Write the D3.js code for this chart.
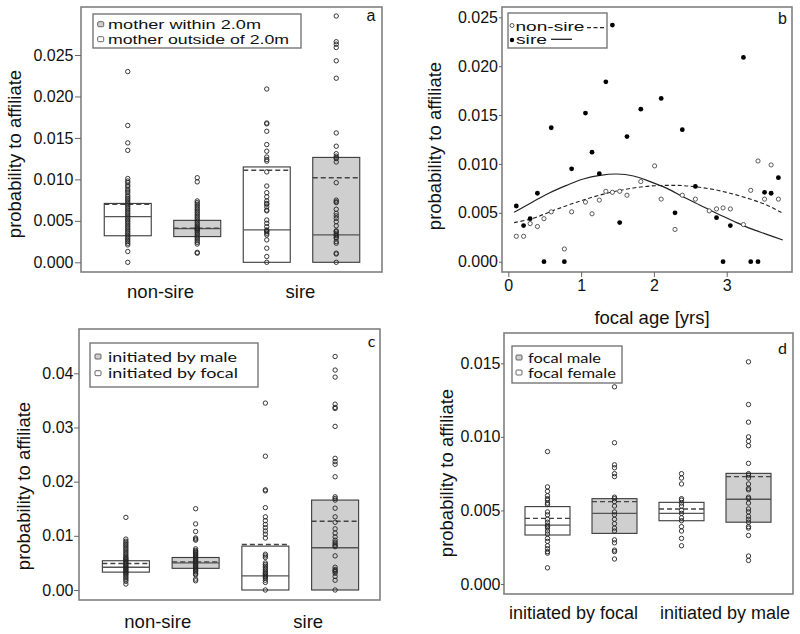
<!DOCTYPE html>
<html><head><meta charset="utf-8">
<script src="https://cdn.jsdelivr.net/npm/d3@7"></script>
<style>body{margin:0;background:#fff} text{font-family:"Liberation Sans",Arial,sans-serif;fill:#111}</style>
</head><body>
<svg id="chart" width="800" height="634"></svg>
<script>
// ================= DATA =================
// ---- panel a ----
const aLegend = ["mother within 2.0m", "mother outside of 2.0m"];
const aGroupNames = ["non-sire", "sire"];
const aBoxKeys = ["non-sire|outside", "non-sire|within", "sire|outside", "sire|within"];
const aBoxGroup = ["non-sire", "non-sire", "sire", "sire"];
const aBoxSeries = ["mother outside of 2.0m", "mother within 2.0m", "mother outside of 2.0m", "mother within 2.0m"];
const aQ1 = [0.0032, 0.0031, 0.0000, 0.0000];
const aMedian = [0.0055, 0.00405, 0.0039, 0.0033];
const aQ3 = [0.0071, 0.00506, 0.0115, 0.01265];
const aMean = [0.0070, 0.0041, 0.0111, 0.0102];
const aPts1 = [0.0230,0.0165,0.0144,0.0135,0.0101,0.0098,0.0096,0.0093,0.0091,0.0088,0.0086,0.0084,0.0081,0.0079,0.0077,0.0075,0.0073,0.0071,0.0069,0.0067,0.0065,0.0063,0.0061,0.0059,0.0057,0.0055,0.0053,0.0051,0.0049,0.0047,0.0045,0.0043,0.0041,0.0039,0.0037,0.0035,0.0033,0.0031,0.0029,0.0027,0.0025,0.0023,0.0021,0.0013,0.0000];
const aPts2 = [0.0102,0.0097,0.0074,0.0072,0.0070,0.0068,0.0066,0.0064,0.0062,0.0060,0.0058,0.0056,0.0054,0.0052,0.0050,0.0048,0.0046,0.0044,0.0042,0.0041,0.0040,0.0039,0.0038,0.0036,0.0034,0.0032,0.0030,0.0028,0.0026,0.0024,0.0022,0.0012,0.0011];
const aPts3 = [0.0209,0.0168,0.0167,0.0158,0.0142,0.0134,0.0127,0.0124,0.0122,0.0109,0.0092,0.0084,0.0079,0.0074,0.0071,0.0070,0.0067,0.0063,0.0062,0.0051,0.0047,0.0043,0.0039,0.0038,0.0037,0.0035,0.0033,0.0027,0.0017,0.0007,0.0000];
const aPts4 = [0.0297,0.0266,0.0263,0.0259,0.0243,0.0222,0.0156,0.0140,0.0131,0.0128,0.0126,0.0125,0.0121,0.0096,0.0075,0.0073,0.0072,0.0064,0.0059,0.0056,0.0053,0.0049,0.0044,0.0038,0.0037,0.0035,0.0033,0.0032,0.0030,0.0029,0.0025,0.0023,0.0011,0.0010,0.0000];
const aTicks = [0, 0.005, 0.010, 0.015, 0.020, 0.025];
const aTickLabels = ["0.000", "0.005", "0.010", "0.015", "0.020", "0.025"];

// ---- panel b ----
const bLegend = ["non-sire", "sire"];
const bNonSireAge = [0.11,0.21,0.30,0.40,0.49,0.59,0.77,0.87,1.06,1.15,1.25,1.34,1.43,1.53,1.63,1.82,2.01,2.10,2.29,2.39,2.57,2.76,2.86,2.95,3.05,3.23,3.33,3.43,3.52,3.61,3.71];
const bNonSireVal = [0.0026,0.0026,0.0039,0.0036,0.0044,0.0051,0.0013,0.0051,0.0061,0.0049,0.0063,0.0072,0.0071,0.0072,0.0068,0.0082,0.0098,0.0064,0.0033,0.0068,0.0064,0.0052,0.0054,0.0055,0.0054,0.0038,0.0073,0.0103,0.0064,0.0099,0.0064];
const bSireAge = [0.11,0.21,0.30,0.40,0.49,0.59,0.77,0.87,1.06,1.15,1.25,1.34,1.43,1.53,1.63,1.82,2.10,2.29,2.39,2.57,2.86,2.95,3.05,3.23,3.33,3.43,3.52,3.61,3.71];
const bSireVal = [0.0057,0.0037,0.0044,0.0070,0.0000,0.0137,0.0000,0.0095,0.0152,0.0112,0.0090,0.0184,0.0242,0.0040,0.0128,0.0156,0.0167,0.0050,0.0135,0.0077,0.0045,0.0000,0.0037,0.0209,0.0000,0.0000,0.0071,0.0070,0.0086];
const bFitAge = [0.08,0.34,0.57,0.80,1.03,1.26,1.49,1.72,1.95,2.18,2.40,2.63,2.86,3.09,3.32,3.55,3.77];
const bFitSire = [0.00505,0.00614,0.00706,0.00781,0.00846,0.00883,0.00897,0.00877,0.00819,0.00750,0.00665,0.00580,0.00495,0.00416,0.00341,0.00280,0.00222];
const bFitNonSire = [0.00400,0.00443,0.00510,0.00573,0.00631,0.00682,0.00723,0.00754,0.00774,0.00781,0.00778,0.00761,0.00733,0.00692,0.00641,0.00580,0.00495];
const bXTicks = [0, 1, 2, 3];
const bXTickLabels = ["0", "1", "2", "3"];
const bYTicks = [0, 0.005, 0.010, 0.015, 0.020, 0.025];
const bYTickLabels = ["0.000", "0.005", "0.010", "0.015", "0.020", "0.025"];

// ---- panel c ----
const cLegend = ["initiated by male", "initiated by focal"];
const cGroupNames = ["non-sire", "sire"];
const cBoxKeys = ["non-sire|focal", "non-sire|male", "sire|focal", "sire|male"];
const cBoxGroup = ["non-sire", "non-sire", "sire", "sire"];
const cBoxSeries = ["initiated by focal", "initiated by male", "initiated by focal", "initiated by male"];
const cQ1 = [0.0033, 0.0040, 0.0000, 0.0000];
const cMedian = [0.0042, 0.0050, 0.0026, 0.0078];
const cQ3 = [0.0054, 0.0060, 0.0081, 0.0166];
const cMean = [0.0049, 0.0052, 0.0084, 0.0127];
const cPts1 = [0.0134,0.0094,0.0090,0.0087,0.0084,0.0081,0.0078,0.0075,0.0072,0.0069,0.0066,0.0063,0.0060,0.0058,0.0056,0.0054,0.0052,0.0050,0.0048,0.0046,0.0044,0.0042,0.0040,0.0038,0.0036,0.0034,0.0032,0.0030,0.0028,0.0025,0.0022,0.0019,0.0016,0.0011];
const cPts2 = [0.0150,0.0122,0.0108,0.0096,0.0094,0.0092,0.0076,0.0073,0.0071,0.0069,0.0067,0.0065,0.0063,0.0061,0.0059,0.0057,0.0055,0.0053,0.0051,0.0049,0.0047,0.0045,0.0043,0.0041,0.0039,0.0037,0.0035,0.0033,0.0030,0.0028,0.0020,0.0017];
const cPts3 = [0.0345,0.0247,0.0185,0.0183,0.0152,0.0135,0.0128,0.0121,0.0115,0.0109,0.0103,0.0096,0.0066,0.0063,0.0060,0.0050,0.0047,0.0044,0.0041,0.0038,0.0035,0.0032,0.0030,0.0028,0.0026,0.0024,0.0022,0.0018,0.0014,0.0000];
const cPts4 = [0.0431,0.0406,0.0393,0.0343,0.0337,0.0335,0.0302,0.0243,0.0237,0.0232,0.0209,0.0172,0.0169,0.0166,0.0151,0.0135,0.0125,0.0113,0.0105,0.0098,0.0092,0.0088,0.0085,0.0082,0.0080,0.0063,0.0042,0.0038,0.0036,0.0034,0.0031,0.0025,0.0018,0.0000];
const cTicks = [0, 0.01, 0.02, 0.03, 0.04];
const cTickLabels = ["0.00", "0.01", "0.02", "0.03", "0.04"];

// ---- panel d ----
const dLegend = ["focal male", "focal female"];
const dGroupNames = ["initiated by focal", "initiated by male"];
const dBoxKeys = ["focal|female", "focal|male", "male|female", "male|male"];
const dBoxGroup = ["initiated by focal", "initiated by focal", "initiated by male", "initiated by male"];
const dBoxSeries = ["focal female", "focal male", "focal female", "focal male"];
const dQ1 = [0.00333, 0.00344, 0.0043, 0.0042];
const dMedian = [0.0040, 0.0048, 0.0048, 0.00576];
const dQ3 = [0.00526, 0.0058, 0.00555, 0.00752];
const dMean = [0.00446, 0.0056, 0.0051, 0.0073];
const dPts1 = [0.0090,0.0066,0.0063,0.0060,0.0058,0.0057,0.0055,0.0054,0.0049,0.0047,0.0044,0.0042,0.0040,0.0039,0.0038,0.0036,0.0034,0.0031,0.0029,0.0026,0.0024,0.0022,0.0021,0.0011];
const dPts2 = [0.0134,0.0096,0.0081,0.0079,0.0075,0.0073,0.0059,0.0058,0.0056,0.0053,0.0049,0.0047,0.0044,0.0041,0.0038,0.0036,0.0030,0.0028,0.0023,0.0022,0.0017];
const dPts3 = [0.0075,0.0072,0.0068,0.0058,0.0057,0.0055,0.0053,0.0050,0.0048,0.0045,0.0043,0.0039,0.0036,0.0031,0.0026];
const dPts4 = [0.0151,0.0122,0.0110,0.0100,0.0097,0.0094,0.0082,0.0075,0.0074,0.0072,0.0068,0.0065,0.0064,0.0059,0.0058,0.0055,0.0051,0.0049,0.0046,0.0044,0.0042,0.0039,0.0038,0.0033,0.0019,0.0016];
const dTicks = [0, 0.005, 0.010, 0.015];
const dTickLabels = ["0.000", "0.005", "0.010", "0.015"];

const yTitle = "probability to affiliate";

// ================= DRAWING =================
const svg = d3.select("#chart");
const SHADE = "#cfcfcf", FRAME = "#808080", BOXLINE = "#3a3a3a";

function frame(g, L) {
  g.append("rect").attr("x", L.fx0).attr("y", L.fy0)
    .attr("width", L.fx1 - L.fx0).attr("height", L.fy1 - L.fy0)
    .attr("fill", "none").attr("stroke", FRAME).attr("stroke-width", 1.6);
}

function yAxis(g, y, ticks, labels, L) {
  const ax = g.append("g").attr("transform", `translate(${L.fx0},0)`)
    .call(d3.axisLeft(y).tickValues(ticks).tickFormat((d, i) => labels[i])
      .tickSize(L.tick).tickPadding(L.pad));
  ax.attr("font-size", null).attr("font-family", null);
  ax.select(".domain").remove();
  ax.selectAll("line").attr("stroke", "#666");
  ax.selectAll("text").attr("font-size", 16).attr("fill", "#111");
}

function titleY(g, L) {
  g.append("text").attr("transform", `translate(${L.tx},${L.ty}) rotate(-90)`)
    .attr("text-anchor", "middle").attr("font-size", 18.5).text(yTitle);
}

function letter(g, L, s, font) {
  g.append("text").attr("x", L.lx).attr("y", L.ly).attr("text-anchor", "middle")
    .attr("font-size", 16).style("font-family", font || null).text(s);
}

function legendBox(g, LG, entries, fill, font) {
  g.append("rect").attr("x", LG.x).attr("y", LG.y).attr("width", LG.w).attr("height", LG.h)
    .attr("fill", "#fff").attr("stroke", "#777").attr("stroke-width", 1.4);
  entries.forEach((e, i) => {
    g.append("rect").attr("x", LG.sx).attr("y", LG.sy[i]).attr("width", 6).attr("height", 5)
      .attr("rx", 1).attr("fill", fill(e)).attr("stroke", "#555").attr("stroke-width", 0.9);
    g.append("text").attr("x", LG.tx).attr("y", LG.ty[i]).attr("font-size", LG.fs)
      .style("font-family", font).attr("textLength", LG.tl[i]).attr("lengthAdjust", "spacingAndGlyphs")
      .text(e);
  });
}

function boxPanel(L, D) {
  const g = svg.append("g");
  const y = d3.scaleLinear().domain([0, D.ticks[D.ticks.length - 1]]).range([L.y0, L.yTop]);
  const x = d3.scaleBand().domain(D.keys).range(L.band);
  const fill = d3.scaleOrdinal().domain(D.legend).range([SHADE, "#ffffff"]);
  frame(g, L);
  yAxis(g, y, D.ticks, D.tickLabels, L);
  titleY(g, L);
  const cx = k => x(k) + x.bandwidth() / 2;
  D.keys.forEach((k, i) => {
    const c = cx(k), hw = L.boxW / 2;
    g.append("rect").attr("x", c - hw).attr("y", y(D.q3[i]))
      .attr("width", L.boxW).attr("height", y(D.q1[i]) - y(D.q3[i]))
      .attr("fill", fill(D.series[i])).attr("stroke", BOXLINE).attr("stroke-width", 1.1);
    g.append("line").attr("x1", c - hw).attr("x2", c + hw)
      .attr("y1", y(D.med[i])).attr("y2", y(D.med[i]))
      .attr("stroke", "#555").attr("stroke-width", 1.3);
    g.append("line").attr("x1", c - hw).attr("x2", c + hw)
      .attr("y1", y(D.mean[i])).attr("y2", y(D.mean[i]))
      .attr("stroke", "#444").attr("stroke-width", 1.4).attr("stroke-dasharray", "5,3");
    g.selectAll(null).data(D.pts[i]).enter().append("circle")
      .attr("cx", c).attr("cy", v => y(v)).attr("r", 2.2)
      .attr("fill", "none").attr("stroke", "#222").attr("stroke-width", 0.9);
  });
  // group labels
  D.groupNames.forEach((gname, j) => {
    const ks = D.keys.filter((k, i) => D.groups[i] === gname);
    const mid = d3.mean(ks, cx);
    g.append("text").attr("x", mid + L.gdx[j]).attr("y", L.gy).attr("text-anchor", "middle")
      .attr("font-size", L.gfs).text(gname);
  });
  legendBox(g, L.legend, D.legend, fill, L.legendFont);
  letter(g, L, L.letter, L.letterFont);
}

// ---- panel a ----
boxPanel(
  { fx0: 81, fx1: 382, fy0: 7, fy1: 272, y0: 262.3, yTop: 55, band: [93, 371], boxW: 47,
    tick: 6, pad: 1.5, tx: 21, ty: 154, gy: 298, gdx: [-2, -1], gfs: 18.5,
    lx: 371, ly: 20.5, letter: "a",
    legendFont: '"Liberation Sans", Arial, sans-serif',
    legend: { x: 93, y: 14, w: 208, h: 34, sx: 97.7, sy: [21.7, 36.7], tx: 108, ty: [29.3, 44.3], fs: 13, tl: [153, 181] } },
  { keys: aBoxKeys, groups: aBoxGroup, series: aBoxSeries, legend: aLegend, groupNames: aGroupNames,
    q1: aQ1, med: aMedian, q3: aQ3, mean: aMean, pts: [aPts1, aPts2, aPts3, aPts4],
    ticks: aTicks, tickLabels: aTickLabels });

// ---- panel c ----
boxPanel(
  { fx0: 79, fx1: 380, fy0: 329, fy1: 600, y0: 590, yTop: 373.3, band: [91, 370], boxW: 47,
    tick: 5, pad: 0.5, tx: 29.5, ty: 486, gy: 628, gdx: [-3, 8], gfs: 18.5,
    lx: 371.5, ly: 347, letter: "c", letterFont: "Lato, sans-serif",
    legendFont: "Lato, sans-serif",
    legend: { x: 90, y: 343, w: 168, h: 44, sx: 95, sy: [354, 370.7], tx: 108, ty: [361.7, 378.3], fs: 14, tl: [129, 130] } },
  { keys: cBoxKeys, groups: cBoxGroup, series: cBoxSeries, legend: cLegend, groupNames: cGroupNames,
    q1: cQ1, med: cMedian, q3: cQ3, mean: cMean, pts: [cPts1, cPts2, cPts3, cPts4],
    ticks: cTicks, tickLabels: cTickLabels });

// ---- panel d ----
boxPanel(
  { fx0: 504, fx1: 793, fy0: 333, fy1: 594, y0: 584, yTop: 363.3, band: [514, 782], boxW: 45,
    tick: 3, pad: 0.5, tx: 453, ty: 473, gy: 619, gdx: [-7.5, 10], gfs: 18,
    lx: 782.5, ly: 354, letter: "d", letterFont: "Lato, sans-serif",
    legendFont: "Lato, sans-serif",
    legend: { x: 512, y: 346, w: 110, h: 37, sx: 516, sy: [355, 370], tx: 528, ty: [363.3, 378.3], fs: 13, tl: [73, 88] } },
  { keys: dBoxKeys, groups: dBoxGroup, series: dBoxSeries, legend: dLegend, groupNames: dGroupNames,
    q1: dQ1, med: dMedian, q3: dQ3, mean: dMean, pts: [dPts1, dPts2, dPts3, dPts4],
    ticks: dTicks, tickLabels: dTickLabels });

// ---- panel b (scatter) ----
(function () {
  const L = { fx0: 502, fx1: 792, fy0: 7, fy1: 272, tick: 3, pad: 1, tx: 441, ty: 146 };
  const g = svg.append("g");
  const x = d3.scaleLinear().domain([0, 3]).range([508.3, 726.7]);
  const y = d3.scaleLinear().domain([0, 0.025]).range([261.7, 17.3]);
  frame(g, L);
  yAxis(g, y, bYTicks, bYTickLabels, L);
  const xa = g.append("g").attr("transform", `translate(0,${L.fy1})`)
    .call(d3.axisBottom(x).tickValues(bXTicks).tickFormat((d, i) => bXTickLabels[i]).tickSize(5).tickPadding(2.5));
  xa.attr("font-size", null).attr("font-family", null);
  xa.select(".domain").remove();
  xa.selectAll("line").attr("stroke", "#666");
  xa.selectAll("text").attr("font-size", 16).attr("fill", "#111");
  titleY(g, L);
  g.append("text").attr("x", 652).attr("y", 324).attr("text-anchor", "middle")
    .attr("font-size", 18.5).text("focal age [yrs]");

  const line = d3.line().x(d => x(d[0])).y(d => y(d[1])).curve(d3.curveCatmullRom);
  g.append("path").datum(d3.zip(bFitAge, bFitNonSire)).attr("d", line)
    .attr("fill", "none").attr("stroke", "#222").attr("stroke-width", 1.1).attr("stroke-dasharray", "4,2.5");
  g.append("path").datum(d3.zip(bFitAge, bFitSire)).attr("d", line)
    .attr("fill", "none").attr("stroke", "#222").attr("stroke-width", 1.2);

  g.selectAll(null).data(d3.zip(bNonSireAge, bNonSireVal)).enter().append("circle")
    .attr("cx", d => x(d[0])).attr("cy", d => y(d[1])).attr("r", 2.1)
    .attr("fill", "#fff").attr("stroke", "#333").attr("stroke-width", 0.8);
  g.selectAll(null).data(d3.zip(bSireAge, bSireVal)).enter().append("circle")
    .attr("cx", d => x(d[0])).attr("cy", d => y(d[1])).attr("r", 2.4)
    .attr("fill", "#000");

  // legend
  g.append("rect").attr("x", 508).attr("y", 13).attr("width", 99).attr("height", 35)
    .attr("fill", "#fff").attr("stroke", "#777").attr("stroke-width", 1.4);
  g.append("circle").attr("cx", 512).attr("cy", 25.5).attr("r", 2)
    .attr("fill", "#fff").attr("stroke", "#333").attr("stroke-width", 0.8);
  g.append("text").attr("x", 515.5).attr("y", 30.7).attr("font-size", 13.5)
    .attr("textLength", 69).attr("lengthAdjust", "spacingAndGlyphs").text(bLegend[0]);
  g.append("line").attr("x1", 587).attr("x2", 605).attr("y1", 27.7).attr("y2", 27.7)
    .attr("stroke", "#222").attr("stroke-width", 1.2).attr("stroke-dasharray", "4,2.5");
  g.append("circle").attr("cx", 512).attr("cy", 40).attr("r", 2.2).attr("fill", "#000");
  g.append("text").attr("x", 516).attr("y", 44.3).attr("font-size", 13.5)
    .attr("textLength", 31).attr("lengthAdjust", "spacingAndGlyphs").text(bLegend[1]);
  g.append("line").attr("x1", 551).attr("x2", 572).attr("y1", 39.3).attr("y2", 39.3)
    .attr("stroke", "#222").attr("stroke-width", 1.3);

  g.append("text").attr("x", 782.5).attr("y", 24).attr("text-anchor", "middle")
    .attr("font-size", 16).text("b");
})();
</script>
</body></html>
